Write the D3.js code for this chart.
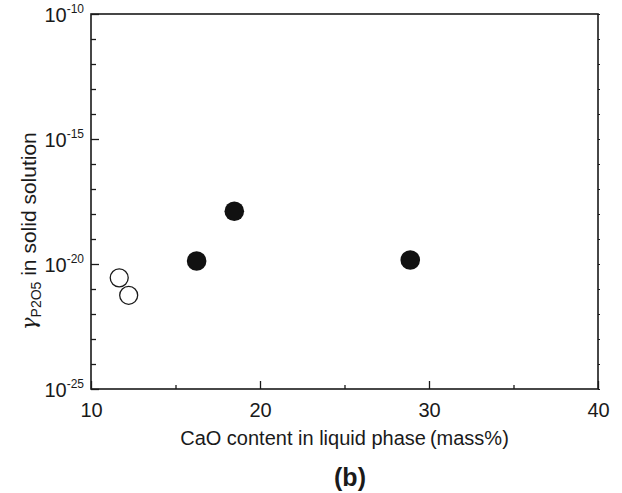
<!DOCTYPE html>
<html>
<head>
<meta charset="utf-8">
<script src="https://cdn.jsdelivr.net/npm/d3@7"></script>
<style>
  html, body { margin: 0; padding: 0; background: #fff; }
  svg { display: block; font-family: "Liberation Sans", Arial, sans-serif; }
</style>
</head>
<body>
<svg id="chart" width="622" height="493"></svg>
<script>
// ---- data ----
const openX = [11.67, 12.23];
const openY = [2.8e-21, 5.6e-22];
const filledX = [16.25, 18.48, 28.89];
const filledY = [1.32e-20, 1.29e-18, 1.45e-20];
const xTickValues = [10, 20, 30, 40];
const xMinorValues = [15, 25, 35];
const yLabelExponents = [-10, -15, -20, -25];
const yDecadeExponents = [-10, -11, -12, -13, -14, -15, -16, -17, -18, -19, -20, -21, -22, -23, -24, -25];
const xTitle = "CaO content in liquid phase\u2009(mass%)";
const panelLabel = "(b)";

// ---- layout ----
const svg = d3.select("#chart");
const L = 91, R = 598, T = 14, B = 389;
const x = d3.scaleLinear().domain([10, 40]).range([L, R]);
const y = d3.scaleLog().domain([1e-25, 1e-10]).range([B, T]);
const ink = "#1a1a1a";

// frame
svg.append("rect").attr("x", L).attr("y", T).attr("width", R - L).attr("height", B - T)
  .attr("fill", "none").attr("stroke", ink).attr("stroke-width", 1.6);

// bottom axis ticks (inward)
const gx = svg.append("g").attr("transform", `translate(0,${B})`)
  .call(d3.axisBottom(x).tickValues(xTickValues).tickSizeInner(-8).tickSizeOuter(0).tickPadding(14)
    .tickFormat(d3.format("d")));
gx.select(".domain").remove();
gx.selectAll(".tick line").attr("stroke", ink).attr("stroke-width", 1.3);
gx.selectAll(".tick text").attr("font-size", 20).attr("fill", ink)
  .attr("font-family", "'Liberation Sans', Arial, sans-serif").attr("dy", "0.71em");
const gxm = svg.append("g").attr("transform", `translate(0,${B})`)
  .call(d3.axisBottom(x).tickValues(xMinorValues).tickSizeInner(-4).tickSizeOuter(0).tickFormat(""));
gxm.select(".domain").remove();
gxm.selectAll(".tick line").attr("stroke", ink).attr("stroke-width", 1.3);

// left axis ticks (inward)
const yDecades = yDecadeExponents.map(e => Math.pow(10, e));
const gy = svg.append("g").attr("transform", `translate(${L},0)`)
  .call(d3.axisLeft(y).tickValues(yDecades)
    .tickSizeInner(-5).tickSizeOuter(0).tickFormat(""));
gy.select(".domain").remove();
gy.selectAll(".tick line").attr("stroke", ink).attr("stroke-width", 1.3)
  .attr("x2", d => (yLabelExponents.includes(Math.round(Math.log10(d))) ? 8 : 5));

// right axis small ticks
const gyr = svg.append("g").attr("transform", `translate(${R},0)`)
  .call(d3.axisRight(y).tickValues(yDecades).tickSizeInner(2).tickSizeOuter(0).tickFormat(""));
gyr.select(".domain").remove();
gyr.selectAll(".tick line").attr("stroke", ink).attr("stroke-width", 1.2);

// y tick labels: 10^n
const yl = svg.append("g");
yLabelExponents.forEach(e => {
  const yy = y(Math.pow(10, e));
  const t = yl.append("text").attr("x", 84).attr("y", yy + 8)
    .attr("text-anchor", "end").attr("fill", ink).attr("font-size", 20);
  t.append("tspan").text("10");
  t.append("tspan").attr("dy", -9).attr("font-size", 12).text(String(e));
});

// points
svg.append("g").selectAll("circle.open").data(openX.map((d, i) => [d, openY[i]])).join("circle")
  .attr("class", "open").attr("cx", d => x(d[0])).attr("cy", d => y(d[1])).attr("r", 9)
  .attr("fill", "#fff").attr("stroke", ink).attr("stroke-width", 1.3);
svg.append("g").selectAll("circle.filled").data(filledX.map((d, i) => [d, filledY[i]])).join("circle")
  .attr("class", "filled").attr("cx", d => x(d[0])).attr("cy", d => y(d[1])).attr("r", 9.8)
  .attr("fill", "#111");

// x title
svg.append("text").attr("x", (L + R) / 2).attr("y", 445).attr("text-anchor", "middle")
  .attr("font-size", 20).attr("fill", ink).text(xTitle);

// panel label
svg.append("text").attr("x", 350).attr("y", 486).attr("text-anchor", "middle")
  .attr("font-size", 25).attr("font-weight", "bold").attr("fill", ink).text(panelLabel);

// y title
const yt = svg.append("text").attr("transform", "translate(36,330) rotate(-90)")
  .attr("text-anchor", "start").attr("font-size", 21).attr("fill", ink);
yt.append("tspan").attr("font-style", "italic").attr("font-family", "'DejaVu Serif', serif").text("\u03b3");
yt.append("tspan").attr("font-size", 14).attr("dy", 5).text("P2O5");
yt.append("tspan").attr("dy", -5).text(" in solid solution");
</script>
</body>
</html>
